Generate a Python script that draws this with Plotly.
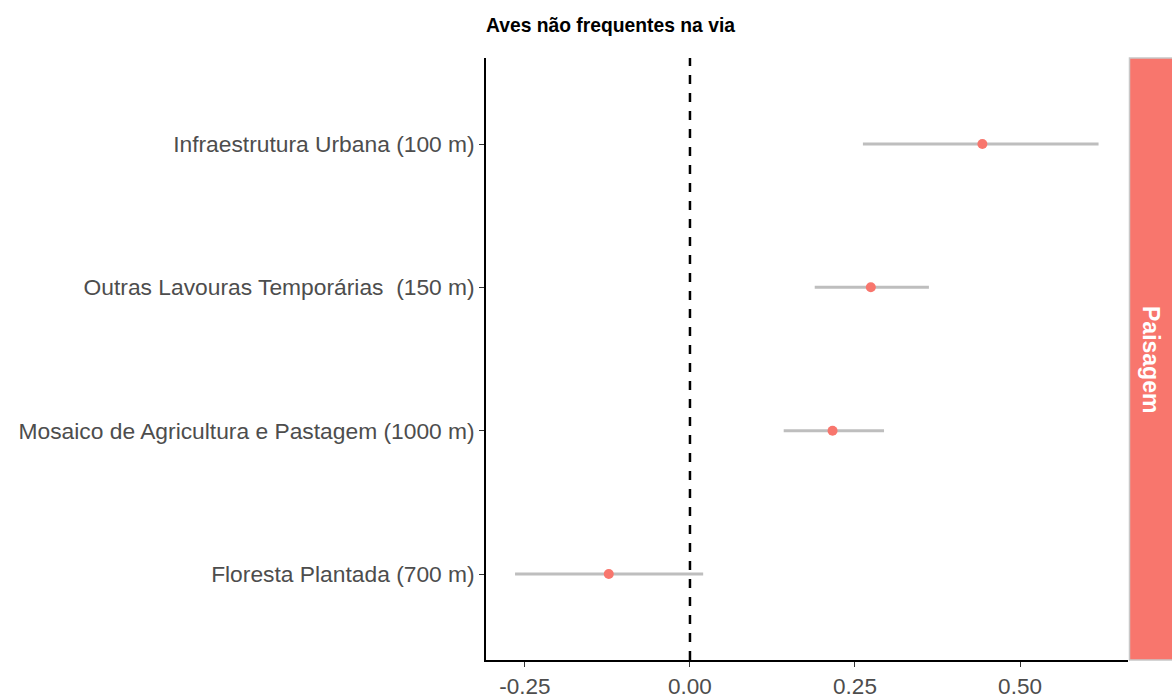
import plotly.graph_objects as go

categories = [
    "Floresta Plantada (700 m)",
    "Mosaico de Agricultura e Pastagem (1000 m)",
    "Outras Lavouras Temporárias\u00a0\u00a0(150 m)",
    "Infraestrutura Urbana (100 m)",
]
estimate = [-0.123, 0.216, 0.274, 0.443]
lower = [-0.265, 0.142, 0.189, 0.262]
upper = [0.020, 0.294, 0.362, 0.619]
xticks = [-0.25, 0.0, 0.25, 0.50]
xticklabels = ["-0.25", "0.00", "0.25", "0.50"]
title_text = "Aves não frequentes na via"
strip_text = "Paisagem"

err_plus = [u - e for u, e in zip(upper, estimate)]
err_minus = [e - l for e, l in zip(estimate, lower)]

FONT = "Liberation Sans, Arial, sans-serif"

fig = go.Figure()
fig.add_trace(go.Scatter(
    x=estimate, y=categories, mode="markers",
    marker=dict(color="#F8766D", size=10),
    error_x=dict(type="data", array=err_plus, arrayminus=err_minus,
                 color="#BEBEBE", thickness=3, width=0, symmetric=False),
    showlegend=False, hoverinfo="x+y",
))

fig.add_shape(type="line", xref="x", yref="paper", x0=0, x1=0, y0=0, y1=1,
              line=dict(color="black", width=2.5, dash="dash"), layer="below")

W, H = 1172, 698
ml, mr, mt, mb = 486, 44, 58, 38
pw = W - ml - mr
fig.add_shape(type="rect", xref="paper", yref="paper",
              x0=1 + 1.5 / pw, x1=1 + 45 / pw, y0=0, y1=1,
              fillcolor="#F8766D", line=dict(color="#C8C8C8", width=1.5))
fig.add_annotation(xref="paper", yref="paper", x=1 + 23 / pw, y=0.5,
                   xanchor="center", yanchor="middle",
                   text="<b>" + strip_text + "</b>", textangle=90, showarrow=False,
                   font=dict(color="white", size=23, family=FONT))

fig.update_layout(
    width=W, height=H,
    margin=dict(l=ml, r=mr, t=mt, b=mb, autoexpand=False),
    paper_bgcolor="white", plot_bgcolor="white",
    font=dict(family=FONT, color="#4D4D4D"),
    title=dict(text="<b>" + title_text + "</b>", x=ml / W, xanchor="left",
               y=1 - 25 / H, yanchor="middle",
               font=dict(size=19.3, color="black", family=FONT)),
    xaxis=dict(range=[-0.309, 0.6636], tickvals=xticks, ticktext=xticklabels,
               automargin=False,
               showgrid=False, zeroline=False, showline=True, linecolor="black",
               linewidth=1.5, ticks="outside", ticklen=5, tickcolor="#333333",
               tickwidth=1.2, tickfont=dict(size=22.5, color="#4D4D4D")),
    yaxis=dict(type="category", categoryorder="array", categoryarray=categories,
               automargin=False,
               range=[-0.6, 3.6], showgrid=False, zeroline=False, showline=True,
               linecolor="black", linewidth=1.5, ticks="outside", ticklen=5,
               tickcolor="#333333", tickwidth=1.2,
               tickfont=dict(size=22.8, color="#4D4D4D")),
)

fig.write_html("out.html", config={"displayModeBar": False},
               post_script="document.body.style.margin='0';document.body.style.overflow='hidden';")
